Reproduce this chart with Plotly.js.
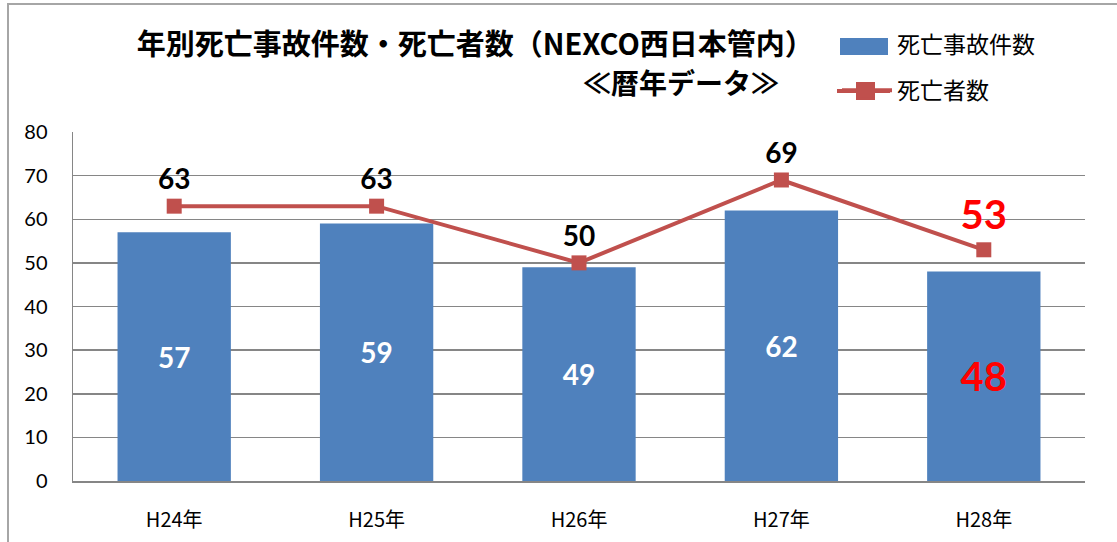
<!DOCTYPE html>
<html><head><meta charset="utf-8">
<script src="https://cdn.plot.ly/plotly-3.0.1.min.js"></script>
<style>
html,body{margin:0;padding:0;background:#fff;}
#frame{position:absolute;left:7px;top:3px;width:1200px;height:600px;border-left:2px solid #a6a6a6;border-top:2px solid #a6a6a6;pointer-events:none;}
#chart{width:1117px;height:542px;}
</style></head>
<body>
<div id="chart"></div>
<div id="frame"></div>
<script>
const categories = ['H24年','H25年','H26年','H27年','H28年'];
const accidents = [57, 59, 49, 62, 48];
const deaths = [63, 63, 50, 69, 53];
const titleLine1 = '年別死亡事故件数・死亡者数（NEXCO西日本管内）';
const titleLine2 = '≪暦年データ≫';
const seriesNames = ['死亡事故件数','死亡者数'];

const numFont = 'Lato, "Open Sans", sans-serif';
const jpFont = '"Noto Sans CJK JP", sans-serif';
const barColor = '#4F81BD';
const lineColor = '#C0504D';

const barTextColors = accidents.map((v,i)=> i===accidents.length-1 ? '#ff0000' : '#ffffff');
const barTextSizes = accidents.map((v,i)=> i===accidents.length-1 ? 40 : 28);
const lineTextColors = deaths.map((v,i)=> i===deaths.length-1 ? '#ff0000' : '#000000');
const lineTextSizes = deaths.map((v,i)=> i===deaths.length-1 ? 40 : 28);

const traces = [
  {
    type:'bar', x:categories, y:accidents, name:seriesNames[0],
    marker:{color:barColor}, width:0.56,
    text:accidents.map(String), textposition:'inside', insidetextanchor:'middle',
    textangle:0, constraintext:'none',
    textfont:{family:numFont, color:barTextColors, size:barTextSizes, weight:'bold'},
    legendgroup:'a', hoverinfo:'skip'
  },
  {
    type:'scatter', mode:'lines+markers+text', x:categories, y:deaths, name:seriesNames[1],
    line:{color:lineColor, width:4},
    marker:{symbol:'square', size:15, color:lineColor},
    text:deaths.map(String), textposition:'top center', cliponaxis:false,
    textfont:{family:numFont, color:lineTextColors, size:lineTextSizes, weight:'bold'},
    legendgroup:'b', hoverinfo:'skip'
  }
];

// plot area geometry helpers (paper coordinates)
const L = 73, R = 1085, T = 132, B = 481;
const px = v => (v - L) / (R - L);
const py = v => (B - v) / (B - T);

const layout = {
  width:1117, height:542,
  margin:{l:L, r:1117-R, t:T, b:542-B},
  paper_bgcolor:'#fff', plot_bgcolor:'#fff',
  showlegend:true,
  legend:{x:px(837), y:py(23), xanchor:'left', yanchor:'top', font:{family:jpFont, size:23, color:'#000'},
          itemwidth:50, traceorder:'grouped', tracegroupgap:13, bgcolor:'rgba(0,0,0,0)'},
  title:{text:'<b>'+titleLine1+'</b>', font:{family:jpFont, size:29, color:'#000'},
         x:444/1117, xanchor:'center', y:1-45/542, yanchor:'middle', xref:'paper', yref:'container'},
  annotations:[
    {text:'<b>'+titleLine2+'</b>', xref:'paper', yref:'paper', x:px(781), y:py(82),
     xanchor:'right', yanchor:'middle', showarrow:false, font:{family:jpFont, size:28, color:'#000'}}
  ],
  shapes:[
    {type:'rect', xref:'paper', yref:'paper', x0:px(840), x1:px(888), y0:py(38), y1:py(55),
     fillcolor:barColor, line:{width:0}, layer:'above'},
    {type:'line', xref:'paper', yref:'paper', x0:px(837), x1:px(890), y0:py(91), y1:py(91),
     line:{color:lineColor, width:4}, layer:'above'},
    {type:'rect', xref:'paper', yref:'paper', x0:px(856), x1:px(875), y0:py(82), y1:py(100),
     fillcolor:lineColor, line:{width:0}, layer:'above'}
  ],
  xaxis:{type:'category', showline:true, linecolor:'#868686', linewidth:2, ticks:'',
         tickfont:{family:jpFont, size:20, color:'#000'}, ticklabelstandoff:20, showgrid:false, fixedrange:true},
  yaxis:{range:[0,80], dtick:10, showline:true, linecolor:'#868686', linewidth:1.5, ticks:'',
         gridcolor:'#868686', gridwidth:1.5, zeroline:false,
         tickfont:{family:numFont, size:20, color:'#000'}, ticklabelstandoff:20, fixedrange:true}
};

Plotly.newPlot('chart', traces, layout, {displayModeBar:false, staticPlot:true});
</script>
</body></html>
